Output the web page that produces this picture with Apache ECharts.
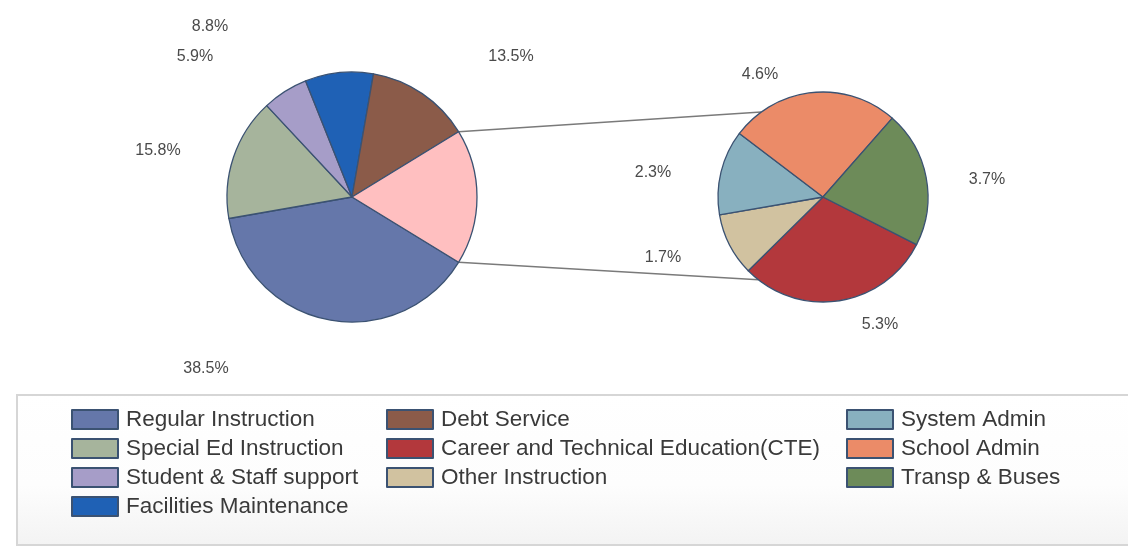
<!DOCTYPE html>
<html>
<head>
<meta charset="utf-8">
<script src="https://cdn.jsdelivr.net/npm/echarts@6/dist/echarts.min.js"></script>
<style>
  html, body { margin: 0; padding: 0; background: #fff; }
  #chart { width: 1128px; height: 548px; }
</style>
</head>
<body>
<div id="chart"></div>
<script>
// main pie (the last slice is broken out into the small pie)
const mainNames = ['Regular Instruction', 'Special Ed Instruction', 'Student & Staff support', 'Facilities Maintenance', 'Debt Service', 'Other'];
const mainValues = [38.5, 15.8, 5.9, 8.8, 13.5, 17.5];
const mainColors = ['#6577aa', '#a6b49c', '#a69dc8', '#1f61b5', '#8b5b49', '#ffbfc0'];

// secondary pie
const subNames = ['Career and Technical Education(CTE)', 'Other Instruction', 'System Admin', 'School Admin', 'Transp & Buses'];
const subValues = [5.3, 1.7, 2.3, 4.6, 3.7];
const subColors = ['#b3383c', '#d1c2a0', '#88b0bf', '#eb8b68', '#6d8b59'];

// legend columns
const legendCol1 = ['Regular Instruction', 'Special Ed Instruction', 'Student & Staff support', 'Facilities Maintenance'];
const legendCol2 = ['Debt Service', 'Career and Technical Education(CTE)', 'Other Instruction'];
const legendCol3 = ['System Admin', 'School Admin', 'Transp & Buses'];

// label spots (the source chart nudges them around)
const mainLabelPos = [[206, 369], [158, 151], [195, 57], [210, 27], [511, 57], null];
const subLabelPos = [[880, 325], [663, 258], [653, 173], [760, 75], [987, 180]];

const mainCenter = [352, 197];
const mainRadius = 125;
const mainStart = -31.5;
const subCenter = [823, 197];
const subRadius = 105;
const subStart = -27;

const borderColor = '#3b5272';
const fontFamily = '"Liberation Sans", Arial, sans-serif';

const myChart = echarts.init(document.getElementById('chart'));

function makeLegend(data, left) {
	return {
		data: data,
		orient: 'vertical',
		left: left,
		top: 408,
		padding: 0,
		itemWidth: 46,
		itemHeight: 19,
		itemGap: 6,
		icon: 'rect',
		selectedMode: false,
		textStyle: {
			fontFamily: fontFamily,
			fontSize: 22.5,
			lineHeight: 20,
			color: '#3a3a3a',
			padding: [0, 0, 0, 3]
		}
	};
}

function pieData(names, values, colors) {
	return names.map((n, i) => ({
		name: n,
		value: values[i],
		itemStyle: { color: colors[i] }
	}));
}

const mData = pieData(mainNames, mainValues, mainColors);
mData[5].label = { show: false };

// connector lines: from the broken-out slice edges to the small pie
const mainTotal = mainValues.reduce((a, b) => a + b);
const otherShare = mainValues[5] / mainTotal;
const edgeAngles = [mainStart + otherShare * 360, mainStart];
const subAngles = [126, -128];
const rad = (d) => d * Math.PI / 180;
const connectors = edgeAngles.map((a, i) => ({
	type: 'line',
	z: 1,
	shape: {
		x1: mainCenter[0] + mainRadius * Math.cos(rad(a)),
		y1: mainCenter[1] - mainRadius * Math.sin(rad(a)),
		x2: subCenter[0] + subRadius * Math.cos(rad(subAngles[i])),
		y2: subCenter[1] - subRadius * Math.sin(rad(subAngles[i]))
	},
	style: { stroke: '#7a7a7a', lineWidth: 1.5 }
}));

const labelStyle = {
	show: true,
	position: 'outside',
	formatter: (p) => p.value.toFixed(1) + '%',
	fontFamily: fontFamily,
	fontSize: 16,
	color: '#4a4a4a'
};

const option = {
	backgroundColor: '#fff',
	animation: false,
	legend: [makeLegend(legendCol1, 71), makeLegend(legendCol2, 386), makeLegend(legendCol3, 846)],
	graphic: [
		{
			type: 'rect',
			z: -10,
			shape: { x: 17, y: 395, width: 1125, height: 150 },
			style: {
				stroke: '#d6d6d6',
				lineWidth: 2,
				fill: new echarts.graphic.LinearGradient(0, 0, 0, 1, [
					{ offset: 0, color: '#ffffff' },
					{ offset: 0.6, color: '#fdfdfd' },
					{ offset: 1, color: '#f3f3f3' }
				])
			}
		}
	].concat(connectors),
	series: [
		{
			type: 'pie',
			center: mainCenter,
			radius: mainRadius,
			startAngle: mainStart,
			clockwise: true,
			avoidLabelOverlap: false,
			data: mData,
			itemStyle: { borderColor: borderColor, borderWidth: 1.3 },
			label: labelStyle,
			labelLine: { show: false },
			labelLayout: (p) => {
				const pos = mainLabelPos[p.dataIndex];
				if (!pos) return {};
				return { x: pos[0], y: pos[1], align: 'center', verticalAlign: 'middle' };
			},
			emphasis: { disabled: true }
		},
		{
			type: 'pie',
			center: subCenter,
			radius: subRadius,
			startAngle: subStart,
			clockwise: true,
			avoidLabelOverlap: false,
			data: pieData(subNames, subValues, subColors),
			itemStyle: { borderColor: borderColor, borderWidth: 1.3 },
			label: labelStyle,
			labelLine: { show: false },
			labelLayout: (p) => {
				const pos = subLabelPos[p.dataIndex];
				return { x: pos[0], y: pos[1], align: 'center', verticalAlign: 'middle' };
			},
			emphasis: { disabled: true }
		}
	]
};

myChart.setOption(option);
</script>
</body>
</html>
